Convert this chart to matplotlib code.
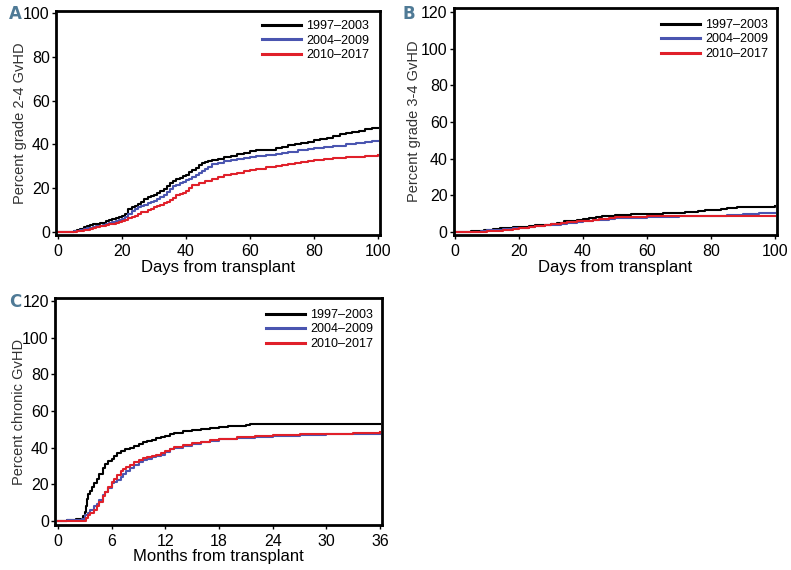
import matplotlib
matplotlib.use("Agg")
import matplotlib.pyplot as plt
import numpy as np

labels = ["1997\u20132003", "2004\u20132009", "2010\u20132017"]
colors = ["#000000", "#4a55b0", "#e0202a"]

# Panel A: grade 2-4 aGvHD (days)
a_black_x = [0, 5, 6, 7, 8, 9, 10, 11, 12, 13, 14, 15, 16, 17, 18, 19, 20, 21, 22, 23, 24, 25, 26, 27, 28, 29, 30, 31, 32, 33, 34, 35, 36, 37, 38, 39, 40, 41, 42, 43, 44, 45, 46, 47, 48, 50, 52, 54, 56, 58, 60, 62, 65, 68, 70, 72, 74, 76, 78, 80, 82, 84, 86, 88, 90, 92, 94, 96, 98, 100]
a_black_y = [0, 0.4, 0.9, 1.5, 2.2, 2.8, 3.2, 3.4, 3.6, 3.9, 4.3, 5.0, 5.4, 5.8, 6.2, 6.6, 7.2, 8.0, 10.5, 11.3, 12.0, 12.8, 13.8, 15.0, 15.8, 16.5, 17.0, 17.8, 18.5, 19.5, 21.0, 22.5, 23.3, 24.0, 24.8, 25.5, 26.0, 27.2, 28.2, 29.3, 30.5, 31.3, 31.8, 32.3, 32.8, 33.3, 34.0, 34.8, 35.5, 36.2, 36.8, 37.2, 37.6, 38.2, 38.7, 39.5, 40.0, 40.4, 41.0, 41.8, 42.3, 43.0, 43.6, 44.5, 45.3, 45.8, 46.3, 46.8, 47.5, 47.5]
a_blue_x = [0, 5, 6, 7, 8, 9, 10, 11, 12, 13, 14, 15, 16, 17, 18, 19, 20, 21, 22, 23, 24, 25, 26, 27, 28, 29, 30, 31, 32, 33, 34, 35, 36, 37, 38, 39, 40, 41, 42, 43, 44, 45, 46, 47, 48, 50, 52, 54, 56, 58, 60, 62, 65, 68, 70, 72, 75, 78, 80, 83, 86, 90, 93, 96, 98, 100]
a_blue_y = [0, 0.2, 0.6, 0.9, 1.2, 1.6, 2.0, 2.2, 2.5, 2.8, 3.1, 3.5, 4.0, 4.4, 4.8, 5.4, 6.0, 7.0, 8.3, 9.5, 10.5, 11.3, 11.8, 12.3, 13.0, 13.6, 14.2, 15.0, 16.0, 17.0, 18.3, 19.8, 20.8, 21.5, 22.3, 23.0, 23.6, 24.3, 25.0, 25.8, 26.7, 27.8, 28.8, 29.8, 30.8, 31.5, 32.2, 32.8, 33.3, 33.8, 34.2, 34.6, 35.2, 35.7, 36.0, 36.6, 37.4, 38.0, 38.5, 39.0, 39.4, 40.0, 40.6, 41.0, 41.4, 41.5]
a_red_x = [0, 6, 7, 8, 9, 10, 11, 12, 13, 14, 15, 16, 17, 18, 19, 20, 21, 22, 23, 24, 25, 26, 27, 28, 29, 30, 31, 32, 33, 34, 35, 36, 37, 38, 39, 40, 41, 42, 44, 46, 48, 50, 52, 54, 56, 58, 60, 62, 65, 68, 70, 72, 74, 76, 78, 80, 83, 86, 90, 93, 96, 100]
a_red_y = [0, 0.4, 0.6, 0.8, 1.1, 1.5, 1.8, 2.2, 2.5, 2.8, 3.2, 3.5, 3.8, 4.2, 4.6, 5.0, 5.6, 6.5, 7.0, 7.5, 8.3, 8.9, 9.3, 9.9, 10.5, 11.3, 11.8, 12.5, 13.0, 13.5, 14.5, 15.7, 16.8, 17.5, 18.0, 18.5, 20.0, 21.5, 22.3, 23.3, 24.3, 25.3, 25.9, 26.5, 27.1, 27.8, 28.4, 28.9, 29.5, 30.0, 30.4, 31.0, 31.6, 32.1, 32.5, 33.0, 33.3, 33.6, 34.0, 34.4, 34.7, 35.0]

# Panel B: grade 3-4 aGvHD (days)
b_black_x = [0, 5, 7, 9, 12, 14, 16, 18, 20, 23, 25, 28, 30, 32, 34, 36, 38, 40, 42, 44, 46, 50, 55, 60, 65, 70, 72, 75, 76, 78, 80, 83, 85, 88, 92, 96, 100]
b_black_y = [0, 0.4, 0.8, 1.1, 1.6, 2.0, 2.4, 2.8, 3.0, 3.3, 3.6, 4.0, 4.3, 5.2, 5.8, 6.3, 6.8, 7.3, 7.7, 8.2, 8.7, 9.2, 9.6, 10.0, 10.2, 10.4, 10.8, 11.0, 11.5, 12.0, 12.3, 12.6, 12.9, 13.5, 13.7, 13.9, 14.0]
b_blue_x = [0, 5, 8, 10, 13, 15, 18, 20, 23, 25, 28, 30, 33, 35, 38, 40, 43, 45, 48, 50, 55, 60, 65, 70, 75, 80, 85, 90, 95, 100]
b_blue_y = [0, 0.3, 0.6, 0.9, 1.3, 1.6, 2.0, 2.4, 2.8, 3.2, 3.6, 4.0, 4.6, 5.0, 5.6, 6.0, 6.4, 6.8, 7.2, 7.5, 7.8, 8.0, 8.3, 8.5, 8.8, 9.0, 9.3, 9.8, 10.3, 10.5]
b_red_x = [0, 5, 10, 13, 15, 18, 20, 23, 25, 28, 30, 33, 35, 38, 40, 43, 45, 48, 50, 55, 60, 70, 80, 90, 100]
b_red_y = [0, 0.2, 0.5, 0.8, 1.3, 1.8, 2.2, 2.8, 3.3, 3.9, 4.4, 4.9, 5.3, 5.8, 6.2, 6.6, 7.0, 7.8, 8.0, 8.3, 8.5, 8.7, 8.9, 9.0, 9.0]

# Panel C: chronic GvHD (months)
c_black_x = [0, 1, 2, 2.6, 2.8, 3.0, 3.1, 3.2, 3.4, 3.6, 3.8, 4.0, 4.3, 4.6, 5.0, 5.3, 5.6, 6.0, 6.3, 6.6, 7.0, 7.5, 8.0, 8.5, 9.0, 9.5, 10.0, 10.5, 11.0, 11.5, 12.0, 12.5, 13.0, 14.0, 15.0, 16.0, 17.0, 18.0, 19.0, 20.0, 21.0, 21.5, 36.0]
c_black_y = [0, 0.5, 0.8, 1.2, 2.5, 5.0, 8.0, 12.0, 14.5, 16.5, 18.5, 20.5, 23.0, 25.5, 29.0, 31.0, 32.5, 34.0, 35.5, 37.0, 38.0, 39.0, 40.0, 41.0, 42.0, 42.8, 43.5, 44.3, 45.0, 45.8, 46.5, 47.3, 48.0, 48.8, 49.5, 50.0, 50.5, 51.0, 51.6, 52.0, 52.5, 53.0, 53.0]
c_blue_x = [0, 1, 2, 2.7, 3.0, 3.3, 3.6, 4.0, 4.3, 4.6, 5.0, 5.3, 5.6, 6.0, 6.3, 6.6, 7.0, 7.3, 7.6, 8.0, 8.5, 9.0, 9.5, 10.0, 10.5, 11.0, 11.5, 12.0, 12.5, 13.0, 14.0, 15.0, 16.0, 17.0, 18.0, 20.0, 22.0, 24.0, 27.0, 30.0, 33.0, 36.0]
c_blue_y = [0, 0.3, 0.6, 1.0, 3.0, 4.5, 6.0, 8.0, 9.5, 11.5, 14.0, 16.0, 18.0, 20.5, 21.5, 22.5, 24.0, 25.5, 27.0, 29.0, 30.5, 32.0, 33.0, 34.0, 34.8, 35.5, 36.2, 37.5, 39.0, 40.0, 41.0, 42.0, 43.0, 43.8, 44.5, 45.3, 46.0, 46.5, 47.0, 47.3, 47.5, 47.5]
c_red_x = [0, 1, 2, 2.9, 3.1, 3.3, 3.6, 4.0, 4.3, 4.6, 5.0, 5.3, 5.6, 6.0, 6.3, 6.6, 7.0, 7.3, 7.6, 8.0, 8.5, 9.0, 9.5, 10.0, 10.5, 11.0, 11.5, 12.0, 12.5, 13.0, 14.0, 15.0, 16.0, 17.0, 18.0, 20.0, 22.0, 24.0, 27.0, 30.0, 33.0, 36.0]
c_red_y = [0, 0, 0, 0, 1.5, 3.0, 4.5, 6.0, 8.0, 10.5, 13.5, 16.0, 18.5, 21.0, 23.0, 25.0, 27.0, 28.5, 29.5, 30.5, 32.0, 33.5, 34.5, 35.0, 35.5, 36.0, 37.0, 38.0, 39.5, 40.5, 41.5, 42.3, 43.3, 44.0, 44.8, 45.7, 46.3, 46.8, 47.3, 47.7, 48.0, 48.3]

W, H = 791, 570
fig = plt.figure(figsize=(W / 100, H / 100), dpi=100)
plt.rcParams['font.family'] = ['Liberation Sans', 'DejaVu Sans']


def make_ax(l, t, r, b):
    return fig.add_axes([l / W, (H - b) / H, (r - l) / W, (b - t) / H])


panels = [
    dict(box=(56, 11, 380, 235), xl=(-0.6, 100.6), yl=(-1.4, 100.9), xt=np.arange(0, 101, 20), yt=np.arange(0, 101, 20),
         xlabel="Days from transplant", ylabel="Percent grade 2-4 GvHD", tag="A", tagpos=(9, 14),
         ylab_x=20, xlab_y=268, leg=(262, 20),
         series=[(a_black_x, a_black_y), (a_blue_x, a_blue_y), (a_red_x, a_red_y)]),
    dict(box=(454, 8, 777, 235), xl=(-0.3, 100.6), yl=(-1.6, 122.2), xt=np.arange(0, 101, 20), yt=np.arange(0, 121, 20),
         xlabel="Days from transplant", ylabel="Percent grade 3-4 GvHD", tag="B", tagpos=(402, 14),
         ylab_x=414, xlab_y=268, leg=(661, 19),
         series=[(b_black_x, b_black_y), (b_blue_x, b_blue_y), (b_red_x, b_red_y)]),
    dict(box=(55, 298, 382, 525), xl=(-0.34, 36.22), yl=(-2.2, 121.6), xt=np.arange(0, 37, 6), yt=np.arange(0, 121, 20),
         xlabel="Months from transplant", ylabel="Percent chronic GvHD", tag="C", tagpos=(9, 302),
         ylab_x=19, xlab_y=557, leg=(266, 309),
         series=[(c_black_x, c_black_y), (c_blue_x, c_blue_y), (c_red_x, c_red_y)]),
]

for p in panels:
    l, t, r, b = p["box"]
    ax = make_ax(l, t, r, b)
    for (x, y), c, lab in zip(p["series"], colors, labels):
        ax.plot(x, y, drawstyle="steps-post", color=c, lw=1.5, label=lab)
    ax.set_xlim(*p["xl"])
    ax.set_ylim(*p["yl"])
    ax.set_xticks(p["xt"])
    ax.set_yticks(p["yt"])
    ax.tick_params(direction="out", length=3, width=1.0, labelsize=11.5)
    ax.tick_params(axis="x", pad=3.5)
    ax.tick_params(axis="y", pad=1.5)
    for s in ax.spines.values():
        s.set_linewidth(2.0)
    ax.set_xlabel(p["xlabel"], fontsize=12)
    ax.set_ylabel(p["ylabel"], fontsize=10.5, color="#333333")
    ax.yaxis.set_label_coords((p["ylab_x"] - l) / (r - l), 0.5)
    ax.yaxis.label.set_va("center")
    ax.xaxis.set_label_coords(0.5, -(p["xlab_y"] - b) / (b - t))
    ax.xaxis.label.set_va("center")
    lx, ly = p["leg"]
    leg = ax.legend(loc="upper left", frameon=False, fontsize=9, handlelength=3.1,
                    handletextpad=0.45, labelspacing=0.2, borderpad=0.0, borderaxespad=0.0,
                    bbox_to_anchor=(lx / W, 1 - ly / H), bbox_transform=fig.transFigure)
    for h in leg.get_lines():
        h.set_linewidth(2.2)
    fig.text(p["tagpos"][0] / W, 1 - p["tagpos"][1] / H, p["tag"], fontsize=12, fontweight="bold",
             color="#4f7a96", ha="left", va="center", family=["Liberation Sans Narrow", "DejaVu Sans"])

fig.savefig("out.png", dpi=100)
